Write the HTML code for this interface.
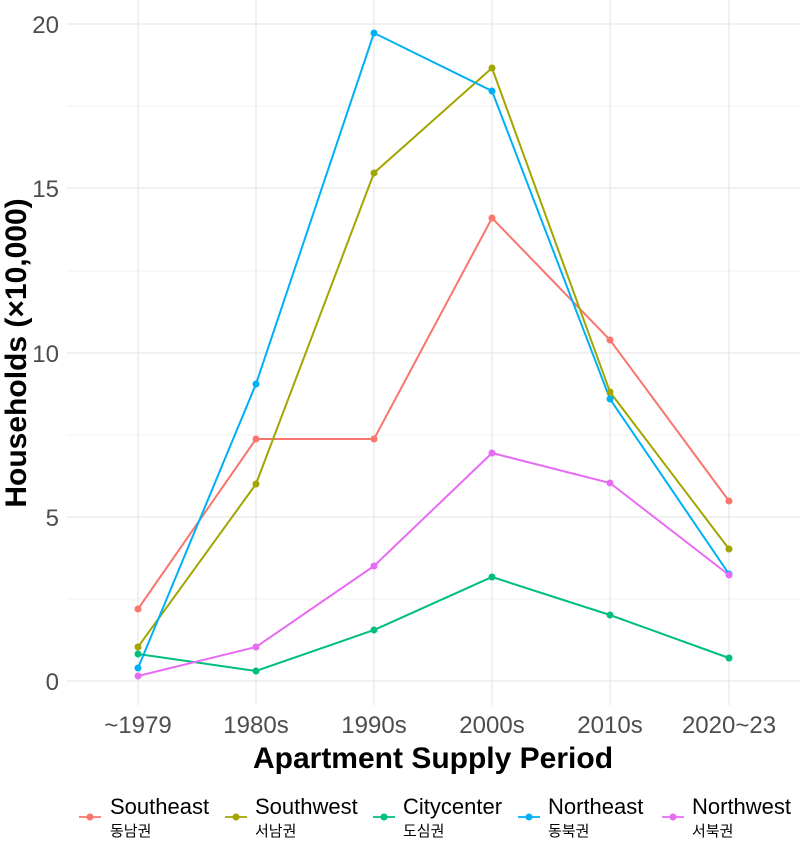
<!DOCTYPE html>
<html><head><meta charset="utf-8"><style>
body{margin:0;background:#fff;}
svg text{font-family:"Liberation Sans","Noto Sans CJK KR",sans-serif;}
</style></head><body>
<svg width="800" height="844" xmlns="http://www.w3.org/2000/svg">
<g stroke="#f0f0f0" stroke-width="1">
<line x1="67" x2="800" y1="599" y2="599"/><line x1="67" x2="800" y1="435" y2="435"/>
<line x1="67" x2="800" y1="271" y2="271"/><line x1="67" x2="800" y1="106" y2="106"/>
</g>
<g stroke="#e6e6e6" stroke-width="1.2">
<line x1="67" x2="800" y1="681" y2="681"/><line x1="67" x2="800" y1="517" y2="517"/>
<line x1="67" x2="800" y1="353" y2="353"/><line x1="67" x2="800" y1="188" y2="188"/>
<line x1="67" x2="800" y1="24" y2="24"/>
<line x1="138" x2="138" y1="0" y2="705"/><line x1="256" x2="256" y1="0" y2="705"/>
<line x1="374" x2="374" y1="0" y2="705"/><line x1="492" x2="492" y1="0" y2="705"/>
<line x1="610" x2="610" y1="0" y2="705"/><line x1="729" x2="729" y1="0" y2="705"/>
</g>
<g font-size="24" fill="#4d4d4d" text-anchor="end">
<text x="59" y="690">0</text><text x="59" y="526">5</text><text x="59" y="362">10</text>
<text x="59" y="197">15</text><text x="59" y="33">20</text>
</g>
<g font-size="24" fill="#4d4d4d" text-anchor="middle">
<text x="138" y="733">~1979</text><text x="256" y="733">1980s</text><text x="374" y="733">1990s</text>
<text x="492" y="733">2000s</text><text x="610" y="733">2010s</text><text x="729" y="733">2020~23</text>
</g>
<text x="433" y="768" font-size="30" font-weight="bold" text-anchor="middle">Apartment Supply Period</text>
<text transform="translate(26,353) rotate(-90)" font-size="30" font-weight="bold" text-anchor="middle">Households (×10,000)</text>
<g fill="none" stroke-width="2">
<polyline stroke="#F8766D" points="138,609 256,439 374,439 492,218 610,340 729,501"/>
<polyline stroke="#A3A500" points="138,647 256,484 374,173 492,68 610,392 729,549"/>
<polyline stroke="#00BF7D" points="138,654 256,671 374,630 492,577 610,615 729,658"/>
<polyline stroke="#00B0F6" points="138,668 256,384 374,33 492,91 610,399 729,574"/>
<polyline stroke="#E76BF3" points="138,676 256,647 374,566 492,453 610,483 729,575"/>
</g>
<g fill="#F8766D"><circle cx="138" cy="609" r="3.5"/><circle cx="256" cy="439" r="3.5"/><circle cx="374" cy="439" r="3.5"/><circle cx="492" cy="218" r="3.5"/><circle cx="610" cy="340" r="3.5"/><circle cx="729" cy="501" r="3.5"/></g>
<g fill="#A3A500"><circle cx="138" cy="647" r="3.5"/><circle cx="256" cy="484" r="3.5"/><circle cx="374" cy="173" r="3.5"/><circle cx="492" cy="68" r="3.5"/><circle cx="610" cy="392" r="3.5"/><circle cx="729" cy="549" r="3.5"/></g>
<g fill="#00BF7D"><circle cx="138" cy="654" r="3.5"/><circle cx="256" cy="671" r="3.5"/><circle cx="374" cy="630" r="3.5"/><circle cx="492" cy="577" r="3.5"/><circle cx="610" cy="615" r="3.5"/><circle cx="729" cy="658" r="3.5"/></g>
<g fill="#00B0F6"><circle cx="138" cy="668" r="3.5"/><circle cx="256" cy="384" r="3.5"/><circle cx="374" cy="33" r="3.5"/><circle cx="492" cy="91" r="3.5"/><circle cx="610" cy="399" r="3.5"/><circle cx="729" cy="574" r="3.5"/></g>
<g fill="#E76BF3"><circle cx="138" cy="676" r="3.5"/><circle cx="256" cy="647" r="3.5"/><circle cx="374" cy="566" r="3.5"/><circle cx="492" cy="453" r="3.5"/><circle cx="610" cy="483" r="3.5"/><circle cx="729" cy="575" r="3.5"/></g>
<g stroke-width="1.8">
<line x1="79" x2="101" y1="817" y2="817" stroke="#F8766D"/><circle cx="90" cy="817" r="3.5" fill="#F8766D"/>
<line x1="225" x2="247" y1="817" y2="817" stroke="#A3A500"/><circle cx="236" cy="817" r="3.5" fill="#A3A500"/>
<line x1="373" x2="395" y1="817" y2="817" stroke="#00BF7D"/><circle cx="384" cy="817" r="3.5" fill="#00BF7D"/>
<line x1="518" x2="540" y1="817" y2="817" stroke="#00B0F6"/><circle cx="529" cy="817" r="3.5" fill="#00B0F6"/>
<line x1="662" x2="684" y1="817" y2="817" stroke="#E76BF3"/><circle cx="673" cy="817" r="3.5" fill="#E76BF3"/>
</g>
<g font-size="22" fill="#000">
<text x="110" y="814">Southeast</text><text x="255" y="814">Southwest</text><text x="403" y="814">Citycenter</text>
<text x="548" y="814">Northeast</text><text x="692" y="814">Northwest</text>
</g>
<g font-size="15" fill="#000">
<text x="110" y="836">동남권</text><text x="255" y="836">서남권</text><text x="403" y="836">도심권</text>
<text x="548" y="836">동북권</text><text x="692" y="836">서북권</text>
</g>
</svg>
</body></html>
